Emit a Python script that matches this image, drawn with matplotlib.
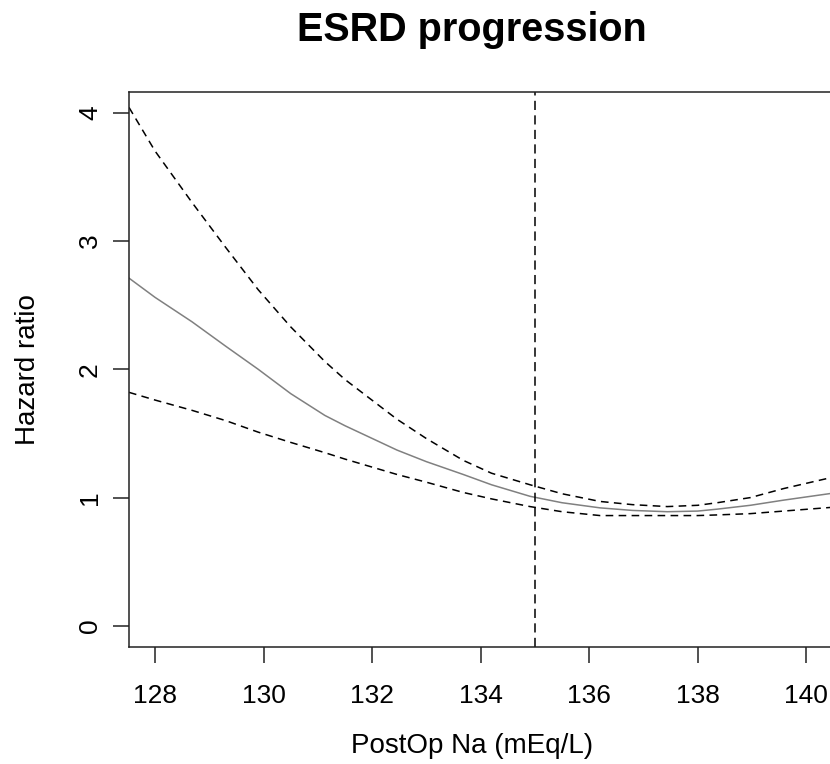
"""
ESRD progression: hazard ratio vs postoperative Na (spline with 95% CI)
"""

import matplotlib
matplotlib.use("Agg")
import matplotlib.pyplot as plt


# Данные
na = [127.52, 128.0, 128.68, 129.3, 129.9, 130.5, 131.13, 131.5, 132.46, 133.0,
      133.68, 134.2, 134.91, 135.5, 136.2, 136.8, 137.44, 138.0, 138.36, 138.97,
      139.58, 140.5]
hr = [2.71, 2.56, 2.37, 2.18, 2.00, 1.81, 1.64, 1.56, 1.37, 1.28,
      1.18, 1.10, 1.01, 0.96, 0.92, 0.90, 0.89, 0.895, 0.91, 0.94,
      0.98, 1.035]
hr_upper = [4.04, 3.70, 3.30, 2.95, 2.62, 2.33, 2.06, 1.92, 1.61, 1.46,
            1.29, 1.19, 1.10, 1.03, 0.97, 0.945, 0.93, 0.94, 0.96, 1.00,
            1.07, 1.16]
hr_lower = [1.82, 1.76, 1.68, 1.60, 1.51, 1.43, 1.35, 1.30, 1.18, 1.12,
            1.04, 0.99, 0.93, 0.89, 0.86, 0.86, 0.86, 0.86, 0.865, 0.875,
            0.895, 0.925]
ref_na = 135
x_ticks = [128, 130, 132, 134, 136, 138, 140]
y_ticks = [0, 1, 2, 3, 4]

plt.rcParams['font.family'] = ['Liberation Sans', 'DejaVu Sans']

W, H = 830, 764
fig = plt.figure(figsize=(W / 100, H / 100), dpi=100)

# Правый край области графика уходит за край картинки
left, right, bottom, top = 129, 835, 647, 92
ax = fig.add_axes([left / W, 1 - bottom / H, (right - left) / W, (bottom - top) / H])

ax.plot(na, hr, color='#808080', linewidth=1.1)
ax.plot(na, hr_upper, color='black', linewidth=1.1, dashes=(5, 3.5))
ax.plot(na, hr_lower, color='black', linewidth=1.1, dashes=(5, 3.5))
ax.axvline(ref_na, color='black', linewidth=1.1, dashes=(6, 3.5))

ax.set_xlim(127.52, 140.53)
ax.set_ylim(-0.164, 4.16)
ax.set_xticks(x_ticks)
ax.set_yticks(y_ticks)
ax.set_xticklabels([str(t) for t in x_ticks], fontsize=19)
ax.set_yticklabels([str(t) for t in y_ticks], fontsize=19, rotation=90, va='center')
ax.tick_params(axis='both', direction='out', length=11.5, width=1.1, color='#222222')
ax.tick_params(axis='x', pad=15)
ax.tick_params(axis='y', pad=8)
for sp in ax.spines.values():
    sp.set_linewidth(1.1)
    sp.set_color('#222222')

fig.text(472 / W, 1 - 746 / H, 'PostOp Na (mEq/L)', fontsize=20, ha='center', va='center')
fig.text(28 / W, 1 - 370 / H, 'Hazard ratio', fontsize=20, ha='center', va='center',
         rotation=90)
fig.text(472 / W, 1 - 30 / H, 'ESRD progression', fontsize=28.5, fontweight='bold',
         ha='center', va='center')

fig.savefig('out.png', dpi=100)
